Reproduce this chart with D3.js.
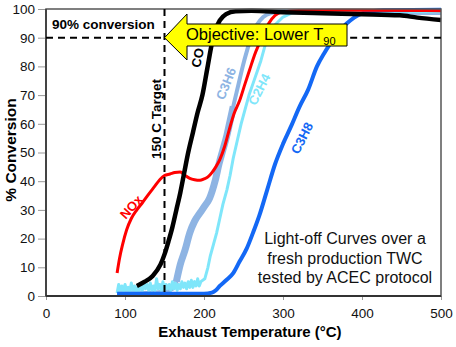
<!DOCTYPE html>
<html>
<head>
<meta charset="utf-8">
<script src="https://cdn.jsdelivr.net/npm/d3@7"></script>
<style>
  body { margin: 0; background: #fff; }
  svg { display: block; font-family: "Liberation Sans", Arial, sans-serif; }
</style>
</head>
<body>
<script>
// chart size
const w = 456;
const h = 347;

// axis ticks
const xTicks = [0, 100, 200, 300, 400, 500];
const yTicks = [0, 10, 20, 30, 40, 50, 60, 70, 80, 90, 100];

// light-off curves, [temperature °C, % conversion]
const coData = [[115,3.5],[125,5],[135,7],[145,11],[150,14.5],[155,19],[160,24],[165,30],[170,36],[175,43],[180,50],[186,57],[192,64],[198,70],[204,79],[210,88],[215,93],[220,96],[228,98.2],[240,99.2],[260,99.4],[300,98.9],[350,98.5],[400,98.2],[448,97.8],[470,97],[500,96.2]];
const noxData = [[90,8],[93,13],[97,18],[102,23],[108,27],[115,30],[122,32.5],[130,35.5],[137,38],[144,40.5],[150,42],[157,42.5],[163,43],[170,43.2],[176,42],[182,41],[188,40.5],[195,40.3],[200,40.8],[205,41.5],[210,43],[215,45],[220,47.5],[226,52],[232,58],[238,63.5],[245,68],[252,74],[258,79],[264,84],[270,88],[276,92],[282,95],[290,97.8],[300,99],[320,99.5],[400,99.6],[500,99.4]];
const c3h6Data = [[90,1],[120,1],[150,1.5],[160,2.5],[165,5],[170,11],[176,16],[182,22],[188,26],[195,29],[200,31],[207,34],[214,40],[219,46],[224,51],[229,56],[233,61],[237,66],[243,73],[249,80],[255,86],[260,90.5],[267,94.5],[275,97.2],[285,98.6],[300,99.2],[350,98.8],[500,98.6]];
const c2h4Data = [[90,1],[92,4],[94,2],[96,3.5],[98,1.5],[100,4],[102,2],[104,3],[106,1.5],[108,4.5],[110,2],[112,3.5],[114,1.5],[116,3],[118,2],[120,4],[122,2],[124,5],[126,2.5],[128,4],[130,2],[132,4.5],[134,2],[136,3.5],[138,2],[140,6],[142,2.5],[144,4],[146,2],[148,5],[150,2],[152,4],[154,2.5],[156,4],[158,2],[160,5],[162,2.5],[164,4.5],[166,2],[168,4],[170,2.5],[172,5],[174,3],[176,4.5],[178,2.5],[180,5],[182,3],[184,5.5],[186,3],[188,5],[190,3.5],[192,6],[194,3.5],[196,5],[201,6],[205,10],[208,14],[212,18],[216,22],[220,27],[224,32],[229,37],[233,42],[237,48],[242,54],[247,60],[252,65],[257,70],[262,74],[267,78],[272,82],[277,87],[283,91],[290,94.5],[300,97.2],[310,98.5],[325,99],[500,99]];
const c3h8Data = [[90,0.8],[150,0.8],[200,0.8],[210,1.2],[215,2],[220,3.5],[228,5.5],[237,8],[245,12],[254,16.5],[262,22],[270,28],[280,37],[290,46],[300,53],[310,59],[321,66],[332,72],[343,80],[352,84.5],[360,88],[370,92],[381,95],[390,97],[401,98.6],[415,99.3],[427,99.6],[500,99.7]];

// curve labels: text, anchor point [°C, %], rotation
const labelNames = ["CO", "C3H6", "C2H4", "C3H8", "NOx"];
const labelPos = [[192,83],[228,74],[270,72],[324,55],[108,31]];
const labelRot = [-78, -68, -63, -63, -48];
const labelColors = ["#000", "#8eb4e3", "#7fe6fa", "#1368f5", "#ff0000"];

const boxLines = ["Light-off Curves over a", "fresh production TWC", "tested by ACEC protocol"];

const svg = d3.select("body")
  .append("svg")
  .attr("width", w)
  .attr("height", h);

const xScale = d3.scaleLinear().domain([0, 500]).range([46, 441]);
const yScale = d3.scaleLinear().domain([0, 100]).range([296, 9]);

// axes
const xAxis = svg.append("g")
  .attr("transform", "translate(0,296)")
  .call(d3.axisBottom(xScale).tickValues(xTicks).tickSize(4).tickPadding(8).tickSizeOuter(0));
const yAxis = svg.append("g")
  .attr("transform", "translate(46,0)")
  .call(d3.axisLeft(yScale).tickValues(yTicks).tickSize(8).tickPadding(3).tickSizeOuter(0));

[xAxis, yAxis].forEach(function(a) {
  a.select(".domain").remove();
  a.selectAll("line").attr("stroke", "#999");
  a.selectAll("text")
    .attr("font-size", "13.5px")
    .attr("fill", "#111")
    .attr("font-family", "Liberation Sans, Arial, sans-serif");
});

// curves
const line = d3.line()
  .x((d) => xScale(d[0]))
  .y((d) => yScale(d[1]))
  .curve(d3.curveMonotoneX);
const rough = d3.line()
  .x((d) => xScale(d[0]))
  .y((d) => yScale(d[1]));

const curves = [
  // the C3H6 signal is noisy while lighting off, so that stretch is drawn wider
  { data: c3h6Data.filter((d) => d[0] >= 165 && d[0] <= 237), color: "#8eb4e3", width: 7, gen: line },
  { data: c3h6Data, color: "#8eb4e3", width: 4, gen: line },
  { data: c2h4Data, color: "#7fe6fa", width: 3, gen: rough },
  { data: c3h8Data, color: "#1368f5", width: 4, gen: line },
  { data: noxData, color: "#ff0000", width: 3, gen: line },
  { data: coData, color: "#000000", width: 4.5, gen: line }
];

svg.selectAll("path.curve")
  .data(curves)
  .join("path")
  .attr("class", "curve")
  .attr("d", (d) => d.gen(d.data))
  .attr("fill", "none")
  .attr("stroke", (d) => d.color)
  .attr("stroke-width", (d) => d.width)
  .attr("stroke-linejoin", "round");

// plot frame
svg.append("rect")
  .attr("x", xScale(0))
  .attr("y", yScale(100))
  .attr("width", xScale(500) - xScale(0))
  .attr("height", yScale(0) - yScale(100))
  .attr("fill", "none")
  .attr("stroke", "#555")
  .attr("stroke-width", 1.5);
svg.append("line")
  .attr("x1", xScale(0)).attr("x2", xScale(0))
  .attr("y1", yScale(100)).attr("y2", yScale(0))
  .attr("stroke", "#444").attr("stroke-width", 2);
svg.append("line")
  .attr("x1", xScale(0)).attr("x2", xScale(500))
  .attr("y1", yScale(0)).attr("y2", yScale(0))
  .attr("stroke", "#333").attr("stroke-width", 2);

// 90% and 150 C guides
const dash = "7,5";
svg.append("line")
  .attr("x1", xScale(0)).attr("x2", xScale(150))
  .attr("y1", yScale(90)).attr("y2", yScale(90))
  .attr("stroke", "#000").attr("stroke-width", 2).attr("stroke-dasharray", dash);
svg.append("line")
  .attr("x1", xScale(385)).attr("x2", xScale(500))
  .attr("y1", yScale(90)).attr("y2", yScale(90))
  .attr("stroke", "#000").attr("stroke-width", 2).attr("stroke-dasharray", dash);
svg.append("line")
  .attr("x1", xScale(150)).attr("x2", xScale(150))
  .attr("y1", yScale(100)).attr("y2", yScale(0))
  .attr("stroke", "#000").attr("stroke-width", 2).attr("stroke-dasharray", dash);

svg.append("text")
  .attr("x", 52).attr("y", 29)
  .attr("font-size", "13.5px").attr("font-weight", "bold")
  .text("90% conversion");

svg.append("text")
  .attr("transform", "translate(161,119) rotate(-90)")
  .attr("text-anchor", "middle")
  .attr("font-size", "13.5px").attr("font-weight", "bold")
  .text("150 C Target");

// objective arrow
const tipX = xScale(150), tipY = yScale(90);
svg.append("path")
  .attr("d", "M" + tipX + "," + tipY +
    " L187,14 L187,24 L347,24 L347,46 L187,46 L187,60 Z")
  .attr("fill", "#ffff00")
  .attr("stroke", "#000")
  .attr("stroke-width", 1);
const obj = svg.append("text")
  .attr("x", 186).attr("y", 40)
  .attr("font-size", "16.5px")
  .attr("fill", "#000");
obj.append("tspan").text("Objective: Lower T");
obj.append("tspan").attr("font-size", "11px").attr("dy", 5).text("90");

// curve labels
svg.selectAll("text.lab")
  .data(labelNames)
  .join("text")
  .attr("class", "lab")
  .attr("transform", (d, i) => "translate(" + xScale(labelPos[i][0]) + "," + yScale(labelPos[i][1]) + ") rotate(" + labelRot[i] + ")")
  .attr("text-anchor", "middle")
  .attr("dominant-baseline", "central")
  .attr("font-size", "13px")
  .attr("font-weight", "bold")
  .attr("fill", (d, i) => labelColors[i])
  .text((d) => d);

// note box text
svg.selectAll("text.note")
  .data(boxLines)
  .join("text")
  .attr("class", "note")
  .attr("x", 345)
  .attr("y", (d, i) => 244 + i * 19.5)
  .attr("text-anchor", "middle")
  .attr("font-size", "16px")
  .attr("fill", "#111")
  .text((d) => d);

// axis titles
svg.append("text")
  .attr("x", 250).attr("y", 337)
  .attr("text-anchor", "middle")
  .attr("font-size", "15px").attr("font-weight", "bold")
  .text("Exhaust Temperature (°C)");
svg.append("text")
  .attr("transform", "translate(16,150) rotate(-90)")
  .attr("text-anchor", "middle")
  .attr("font-size", "15.5px").attr("font-weight", "bold")
  .text("% Conversion");
</script>
</body>
</html>
